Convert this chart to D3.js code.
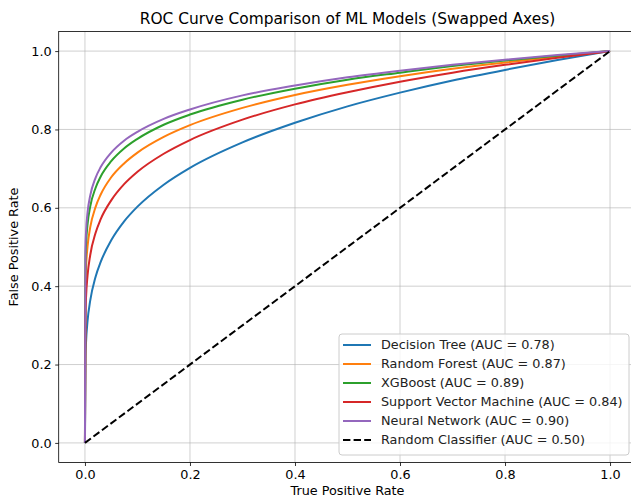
<!DOCTYPE html>
<html>
<head>
<meta charset="utf-8">
<script src="https://cdn.jsdelivr.net/npm/d3@7"></script>
<style>
  body { margin: 0; background: #fff; }
  svg { font-family: 'DejaVu Sans', sans-serif; display: block; }
</style>
</head>
<body>
<script>
// sample points along the x axis (True Positive Rate)
const xs = [0, 0.001, 0.002, 0.005, 0.01, 0.02, 0.03, 0.05, 0.075, 0.1, 0.15, 0.2, 0.3, 0.4, 0.5, 0.6, 0.7, 0.8, 0.9, 1.0];

// values
const decisionTree = [0, 0.219, 0.255, 0.312, 0.363, 0.423, 0.462, 0.517, 0.566, 0.603, 0.659, 0.702, 0.767, 0.817, 0.859, 0.894, 0.925, 0.952, 0.977, 1.0];
const randomForest = [0, 0.407, 0.446, 0.502, 0.550, 0.601, 0.634, 0.678, 0.714, 0.741, 0.781, 0.811, 0.855, 0.888, 0.914, 0.936, 0.955, 0.971, 0.986, 1.0];
const xgboost      = [0, 0.468, 0.505, 0.558, 0.603, 0.650, 0.680, 0.719, 0.752, 0.776, 0.812, 0.838, 0.876, 0.904, 0.927, 0.945, 0.962, 0.976, 0.988, 1.0];
const svmCurve     = [0, 0.331, 0.370, 0.428, 0.479, 0.535, 0.571, 0.619, 0.661, 0.692, 0.738, 0.773, 0.825, 0.864, 0.895, 0.922, 0.945, 0.965, 0.983, 1.0];
const neuralNet    = [0, 0.501, 0.537, 0.589, 0.631, 0.676, 0.704, 0.741, 0.772, 0.794, 0.827, 0.851, 0.887, 0.912, 0.933, 0.950, 0.965, 0.978, 0.990, 1.0];
const diagX = [0, 1];
const diagY = [0, 1];

const modelNames = ['Decision Tree', 'Random Forest', 'XGBoost', 'Support Vector Machine', 'Neural Network'];
const aucs = [0.78, 0.87, 0.89, 0.84, 0.90];
const colors = ['#1f77b4', '#ff7f0e', '#2ca02c', '#d62728', '#9467bd'];
const ticks = [0, 0.2, 0.4, 0.6, 0.8, 1.0];

const width = 631;
const height = 499;
const margin = { top: 31.5, left: 58.7, right: -5.3, bottom: 36.5 };
const innerW = width - margin.left - margin.right;
const innerH = height - margin.top - margin.bottom;

const svg = d3.select('body').append('svg').attr('width', width).attr('height', height);

const x = d3.scaleLinear().domain([-0.05, 1.05]).range([0, innerW]);
const y = d3.scaleLinear().domain([-0.05, 1.05]).range([innerH, 0]);

const chartGroup = svg.append('g').attr('transform', `translate(${margin.left}, ${margin.top})`);

// grid
chartGroup.append('g').selectAll('line.gx')
  .data(ticks).enter().append('line')
    .attr('x1', d => x(d)).attr('x2', d => x(d))
    .attr('y1', 0).attr('y2', innerH)
    .attr('stroke', '#b0b0b0').attr('stroke-opacity', 0.6).attr('stroke-width', 1);
chartGroup.append('g').selectAll('line.gy')
  .data(ticks).enter().append('line')
    .attr('y1', d => y(d)).attr('y2', d => y(d))
    .attr('x1', 0).attr('x2', innerW)
    .attr('stroke', '#b0b0b0').attr('stroke-opacity', 0.6).attr('stroke-width', 1);

const series = [decisionTree, randomForest, xgboost, svmCurve, neuralNet];
const line = d3.line().x(d => x(d[0])).y(d => y(d[1])).curve(d3.curveMonotoneX);

series.forEach((vals, i) => {
  chartGroup.append('path')
    .datum(xs.map((v, j) => [v, vals[j]]))
    .attr('fill', 'none')
    .attr('stroke', colors[i])
    .attr('stroke-width', 2)
    .attr('d', line);
});

chartGroup.append('path')
  .datum(diagX.map((v, j) => [v, diagY[j]]))
  .attr('fill', 'none')
  .attr('stroke', '#000')
  .attr('stroke-width', 2)
  .attr('stroke-dasharray', '7.4,3.2')
  .attr('d', d3.line().x(d => x(d[0])).y(d => y(d[1])));

// axes
const fmt = d3.format('.1f');
const xAxis = d3.axisBottom(x).tickValues(ticks).tickFormat(fmt).tickSize(3.5).tickPadding(3.5);
const yAxis = d3.axisLeft(y).tickValues(ticks).tickFormat(fmt).tickSize(3.5).tickPadding(3.5);

const gx = chartGroup.append('g').attr('transform', `translate(0, ${innerH})`).call(xAxis);
const gy = chartGroup.append('g').call(yAxis);
[gx, gy].forEach(g => {
  g.select('.domain').remove();
  g.selectAll('text').attr('font-size', 12.8).attr('fill', '#000').attr('font-family', "'DejaVu Sans', sans-serif");
  g.selectAll('line').attr('stroke', '#000').attr('stroke-width', 0.8);
});

// frame
chartGroup.append('rect')
  .attr('x', 0).attr('y', 0).attr('width', innerW).attr('height', innerH)
  .attr('fill', 'none').attr('stroke', '#000').attr('stroke-width', 0.8);

// titles
svg.append('text')
  .attr('text-anchor', 'middle')
  .attr('x', margin.left + x(0.5)).attr('y', 24)
  .attr('font-size', 15.4)
  .text('ROC Curve Comparison of ML Models (Swapped Axes)');
svg.append('text')
  .attr('text-anchor', 'middle')
  .attr('x', margin.left + x(0.5)).attr('y', 495)
  .attr('font-size', 12.8)
  .text('True Positive Rate');
svg.append('text')
  .attr('text-anchor', 'middle')
  .attr('transform', `translate(18, ${margin.top + y(0.5)}) rotate(-90)`)
  .attr('font-size', 12.8)
  .text('False Positive Rate');

// legend
const legendLabels = modelNames.map((n, i) => `${n} (AUC = ${aucs[i].toFixed(2)})`).concat(['Random Classifier (AUC = 0.50)']);
const legendColors = colors.concat(['#000']);
const legend = svg.append('g').attr('transform', 'translate(339, 334)');
legend.append('rect')
  .attr('x', 0).attr('y', 0).attr('width', 290).attr('height', 121)
  .attr('rx', 3)
  .attr('fill', '#fff').attr('fill-opacity', 0.8)
  .attr('stroke', '#ccc').attr('stroke-width', 1);
legendLabels.forEach((lab, i) => {
  const ly = 11 + i * 19;
  legend.append('line')
    .attr('x1', 4).attr('x2', 32).attr('y1', ly).attr('y2', ly)
    .attr('stroke', legendColors[i]).attr('stroke-width', 2)
    .attr('stroke-dasharray', i === 5 ? '7.4,3.2' : null);
  legend.append('text')
    .attr('x', 42).attr('y', ly).attr('dy', '0.35em')
    .attr('font-size', 12.8).attr('fill', '#222')
    .text(lab);
});
</script>
</body>
</html>
